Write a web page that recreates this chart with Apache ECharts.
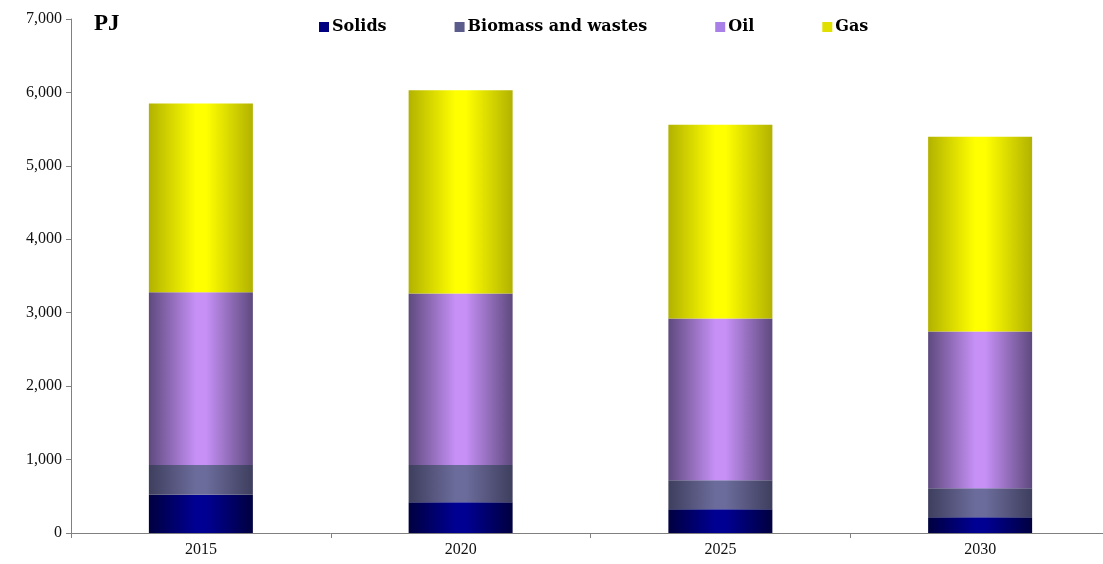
<!DOCTYPE html>
<html>
<head>
<meta charset="utf-8">
<script src="https://cdn.jsdelivr.net/npm/echarts@6/dist/echarts.min.js"></script>
<style>
html,body{margin:0;padding:0;background:#fff;overflow:hidden;}
#chart{width:1110px;height:564px;}
</style>
</head>
<body>
<div id="chart"></div>
<script>
const categories = ['2015', '2020', '2025', '2030'];
const solids = [520, 420, 325, 215];
const biomass = [405, 505, 395, 395];
const oil = [2355, 2335, 2200, 2135];
const gas = [2570, 2770, 2640, 2650];
const yTicks = [0, 1000, 2000, 3000, 4000, 5000, 6000, 7000];

function grad(edge, mid) {
  return new echarts.graphic.LinearGradient(0, 0, 1, 0, [
    {offset: 0, color: edge},
    {offset: 0.45, color: mid},
    {offset: 0.55, color: mid},
    {offset: 1, color: edge}
  ]);
}
const serif = '"Liberation Serif", "DejaVu Serif", serif';
const legendFont = '"DejaVu Serif", serif';
const chart = echarts.init(document.getElementById('chart'));
function series(name, data, edge, mid) {
  return {
    name, type: 'bar', stack: 'total', data, barWidth: 104,
    itemStyle: {color: grad(edge, mid)},
    emphasis: {disabled: true}
  };
}
chart.setOption({
  animation: false,
  grid: {left: 71, right: 0, top: 19, bottom: 31},
  legend: {
    left: 314, top: 14, itemWidth: 10, itemHeight: 10, itemGap: 68,
    icon: 'rect',
    textStyle: {fontFamily: legendFont, fontSize: 16, fontWeight: 'bold', color: '#000', padding: [0, 0, 0, -2]},
    data: [
      {name: 'Solids', itemStyle: {color: '#000080'}},
      {name: 'Biomass and wastes', itemStyle: {color: '#5c5c8c'}},
      {name: 'Oil', itemStyle: {color: '#a880e8'}},
      {name: 'Gas', itemStyle: {color: '#e0e000'}}
    ]
  },
  graphic: [{
    type: 'text', left: 94, top: 13,
    style: {text: 'PJ', font: 'bold 23px ' + serif, fill: '#000'}
  }],
  xAxis: {
    type: 'category', data: categories,
    axisLine: {lineStyle: {color: '#808080', width: 1}},
    axisTick: {show: true, alignWithLabel: false, length: 5, inside: false, lineStyle: {color: '#808080'}},
    axisLabel: {fontFamily: serif, fontSize: 16, color: '#111', margin: 9}
  },
  yAxis: {
    type: 'value', min: 0, max: 7000, interval: 1000,
    axisLine: {show: true, lineStyle: {color: '#808080'}},
    axisTick: {show: true, length: 5, lineStyle: {color: '#808080'}},
    splitLine: {show: false},
    axisLabel: {
      fontFamily: serif, fontSize: 16, color: '#111', margin: 9,
      formatter: v => yTicks.includes(v) ? v.toLocaleString('en-US') : ''
    }
  },
  series: [
    series('Solids', solids, '#000040', '#000092'),
    series('Biomass and wastes', biomass, '#3e3e5e', '#6c6c9c'),
    series('Oil', oil, '#5e4a7e', '#c690f6'),
    series('Gas', gas, '#b2b200', '#ffff00')
  ]
});
</script>
</body>
</html>
